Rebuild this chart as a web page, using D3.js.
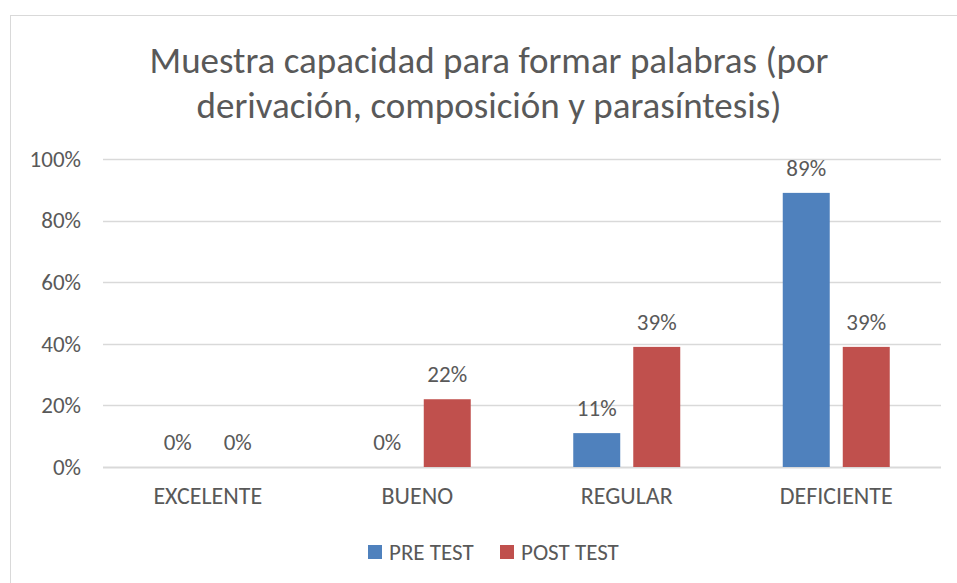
<!DOCTYPE html>
<html>
<head>
<meta charset="utf-8">
<script src="https://cdn.jsdelivr.net/npm/d3@7"></script>
<style>
  body { margin: 0; background: #fff; }
  svg { display: block; font-family: Carlito, Calibri, Lato, sans-serif; }
</style>
</head>
<body>
<svg id="chart" width="957" height="583"></svg>
<script>
const categories = ["EXCELENTE", "BUENO", "REGULAR", "DEFICIENTE"];
const seriesNames = ["PRE TEST", "POST TEST"];
const preTest = [0, 0, 0.11, 0.89];
const postTest = [0, 0.22, 0.39, 0.39];
const yTicks = [0, 0.2, 0.4, 0.6, 0.8, 1];
const titleLines = ["Muestra capacidad para formar palabras (por", "derivación, composición y parasíntesis)"];

const colors = { "PRE TEST": "#4f81bd", "POST TEST": "#c0504d" };
const textColor = "#595959";
const gridColor = "#d9d9d9";

const margin = { left: 103, right: 16, top: 159, bottom: 116 };
const W = 957, H = 583;

const svg = d3.select("#chart");

// chart frame
svg.append("rect")
  .attr("x", 10.5).attr("y", 15.5)
  .attr("width", 960).attr("height", 600)
  .attr("fill", "#fff")
  .attr("stroke", gridColor);

// title
svg.append("g")
  .selectAll("text")
  .data(titleLines)
  .join("text")
  .attr("x", 489)
  .attr("y", (d, i) => 73 + i * 45)
  .attr("text-anchor", "middle")
  .attr("font-size", 37)
  .attr("fill", textColor)
  .text((d) => d);

const x0 = d3.scaleBand()
  .domain(categories)
  .range([margin.left, W - margin.right]);

const x1 = d3.scaleBand()
  .domain(seriesNames)
  .range([0, x0.bandwidth()])
  .paddingInner(0.217)
  .paddingOuter(0.854);

const y = d3.scaleLinear()
  .domain([0, 1])
  .range([H - margin.bottom, margin.top]);

// gridlines
svg.append("g")
  .selectAll("line")
  .data(yTicks)
  .join("line")
  .attr("x1", margin.left)
  .attr("x2", W - margin.right)
  .attr("y1", (d) => Math.round(y(d)) + 0.5)
  .attr("y2", (d) => Math.round(y(d)) + 0.5)
  .attr("stroke", gridColor)
  .attr("stroke-width", (d) => (d === 0 ? 2 : 1.3));

// y axis labels
const yAxis = d3.axisLeft(y)
  .tickValues(yTicks)
  .tickFormat(d3.format(".0%"))
  .tickSize(0)
  .tickPadding(22);

svg.append("g")
  .attr("transform", `translate(${margin.left},0)`)
  .call(yAxis)
  .attr("font-family", null)
  .attr("font-size", 23)
  .call((g) => g.select(".domain").remove())
  .call((g) => g.selectAll("text").attr("fill", textColor));

// x axis labels
const xAxis = d3.axisBottom(x0).tickSize(0).tickPadding(20);
svg.append("g")
  .attr("transform", `translate(0,${H - margin.bottom})`)
  .call(xAxis)
  .attr("font-family", null)
  .attr("font-size", 24)
  .call((g) => g.select(".domain").remove())
  .call((g) => g.selectAll("text").attr("fill", textColor));

// bars
const rows = categories.map((c, i) => ({
  category: c,
  values: [
    { series: "PRE TEST", value: preTest[i] },
    { series: "POST TEST", value: postTest[i] },
  ],
}));

const groups = svg.append("g")
  .selectAll("g")
  .data(rows)
  .join("g")
  .attr("transform", (d) => `translate(${x0(d.category)},0)`);

groups.selectAll("rect")
  .data((d) => d.values)
  .join("rect")
  .attr("x", (d) => x1(d.series))
  .attr("y", (d) => y(d.value))
  .attr("width", x1.bandwidth())
  .attr("height", (d) => y(0) - y(d.value))
  .attr("fill", (d) => colors[d.series]);

groups.selectAll("text")
  .data((d) => d.values)
  .join("text")
  .attr("x", (d) => x1(d.series) + x1.bandwidth() / 2)
  .attr("y", (d) => y(d.value) - 17)
  .attr("text-anchor", "middle")
  .attr("font-size", 23)
  .attr("fill", textColor)
  .text((d) => d3.format(".0%")(d.value));

// legend
const legend = svg.append("g")
  .attr("transform", "translate(368,545)");

const legendX = [0, 132];
const items = legend.selectAll("g")
  .data(seriesNames)
  .join("g")
  .attr("transform", (d, i) => `translate(${legendX[i]},0)`);

items.append("rect")
  .attr("width", 14)
  .attr("height", 14)
  .attr("fill", (d) => colors[d]);

items.append("text")
  .attr("x", 21)
  .attr("y", 15)
  .attr("font-size", 23)
  .attr("fill", textColor)
  .text((d) => d);
</script>
</body>
</html>
